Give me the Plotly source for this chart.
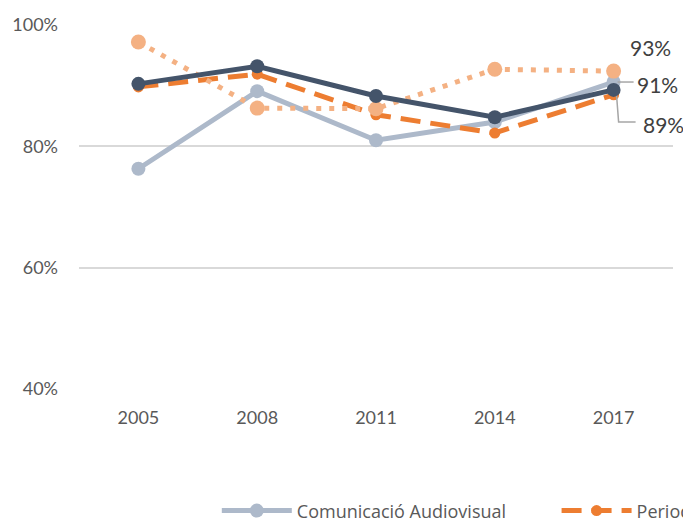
import plotly.graph_objects as go

years = ["2005", "2008", "2011", "2014", "2017"]
comunicacio = [76.3, 89.1, 81.0, 84.0, 90.6]
periodisme = [89.8, 91.9, 85.2, 82.2, 88.5]
publicitat = [97.2, 86.3, 86.2, 92.7, 92.4]
total = [90.3, 93.2, 88.3, 84.8, 89.3]
ytick_vals = [40, 60, 80, 100]
ytick_text = ["40%", "60%", "80%", "100%"]
labels_2017 = ["93%", "91%", "89%"]

FONT = "Lato"
LEGFONT = "Open Sans"
TXT = "#595959"
LAST = len(years) - 1

fig = go.Figure()
fig.add_trace(go.Scatter(x=years, y=comunicacio, name="Comunicació Audiovisual",
                         mode="lines+markers", legend="legend",
                         line=dict(color="#ADB9CA", width=5),
                         marker=dict(size=14, color="#ADB9CA")))
fig.add_trace(go.Scatter(x=years, y=periodisme, name="Periodisme",
                         mode="lines+markers", legend="legend2",
                         line=dict(color="#ED7D31", width=5, dash="20px,10px"),
                         marker=dict(size=11, color="#ED7D31")))
fig.add_trace(go.Scatter(x=years, y=publicitat, name="Publicitat i Relacions Públiques",
                         mode="lines+markers", showlegend=False,
                         line=dict(color="#F4B183", width=5, dash="5px,8px"),
                         marker=dict(size=15, color="#F4B183")))
fig.add_trace(go.Scatter(x=years, y=total, name="Total",
                         mode="lines+markers", showlegend=False,
                         line=dict(color="#44546A", width=5),
                         marker=dict(size=14, color="#44546A")))

# 2017 data labels
fig.add_annotation(x=LAST, y=publicitat[LAST], xref="x", yref="y", text=labels_2017[0],
                   showarrow=False, xshift=37, yshift=24,
                   font=dict(family=FONT, size=21, color="#404040"))
fig.add_annotation(x=LAST, y=comunicacio[LAST], xref="x", yref="y", text=labels_2017[1],
                   showarrow=False, xshift=44, yshift=-2,
                   font=dict(family=FONT, size=21, color="#404040"))
fig.add_annotation(x=LAST, y=total[LAST], xref="x", yref="y", text=labels_2017[2],
                   showarrow=False, xshift=50, yshift=-35,
                   font=dict(family=FONT, size=21, color="#404040"))
# leader lines
fig.add_shape(type="path", xref="x", yref="y", xsizemode="pixel", ysizemode="pixel",
              xanchor=LAST, yanchor=comunicacio[LAST],
              path="M4,0 L20,0", line=dict(color="#A6A6A6", width=1.5))
fig.add_shape(type="path", xref="x", yref="y", xsizemode="pixel", ysizemode="pixel",
              xanchor=LAST, yanchor=total[LAST],
              path="M3,-6 L5,-32 L22,-32", line=dict(color="#A6A6A6", width=1.5))

legend_common = dict(orientation="h", xanchor="left", y=-0.284, yanchor="top",
                     itemwidth=70, font=dict(family=LEGFONT, size=18, color=TXT),
                     bgcolor="rgba(0,0,0,0)")

fig.update_layout(
    width=683, height=523,
    margin=dict(l=79, r=10, t=25, b=134, autoexpand=False),
    paper_bgcolor="white", plot_bgcolor="white",
    font=dict(family=FONT, size=18, color=TXT),
    showlegend=True,
    legend=dict(x=0.232, **legend_common),
    legend2=dict(x=0.804, **legend_common),
)
fig.update_xaxes(type="category", range=[-0.5, 4.5], showgrid=False, zeroline=False,
                 showline=False, ticks="", ticklabelstandoff=16,
                 tickfont=dict(family=FONT, size=18, color=TXT))
fig.update_yaxes(range=[40, 100], tickvals=ytick_vals, ticktext=ytick_text,
                 showgrid=True, gridcolor="#D9D9D9", gridwidth=1.5, zeroline=False,
                 showline=False, ticks="", ticklabelstandoff=20,
                 tickfont=dict(family=FONT, size=18, color=TXT))

fig.write_html("out.html", config={"displayModeBar": False},
               post_script="document.body.style.margin='0';document.body.style.overflow='hidden';")
